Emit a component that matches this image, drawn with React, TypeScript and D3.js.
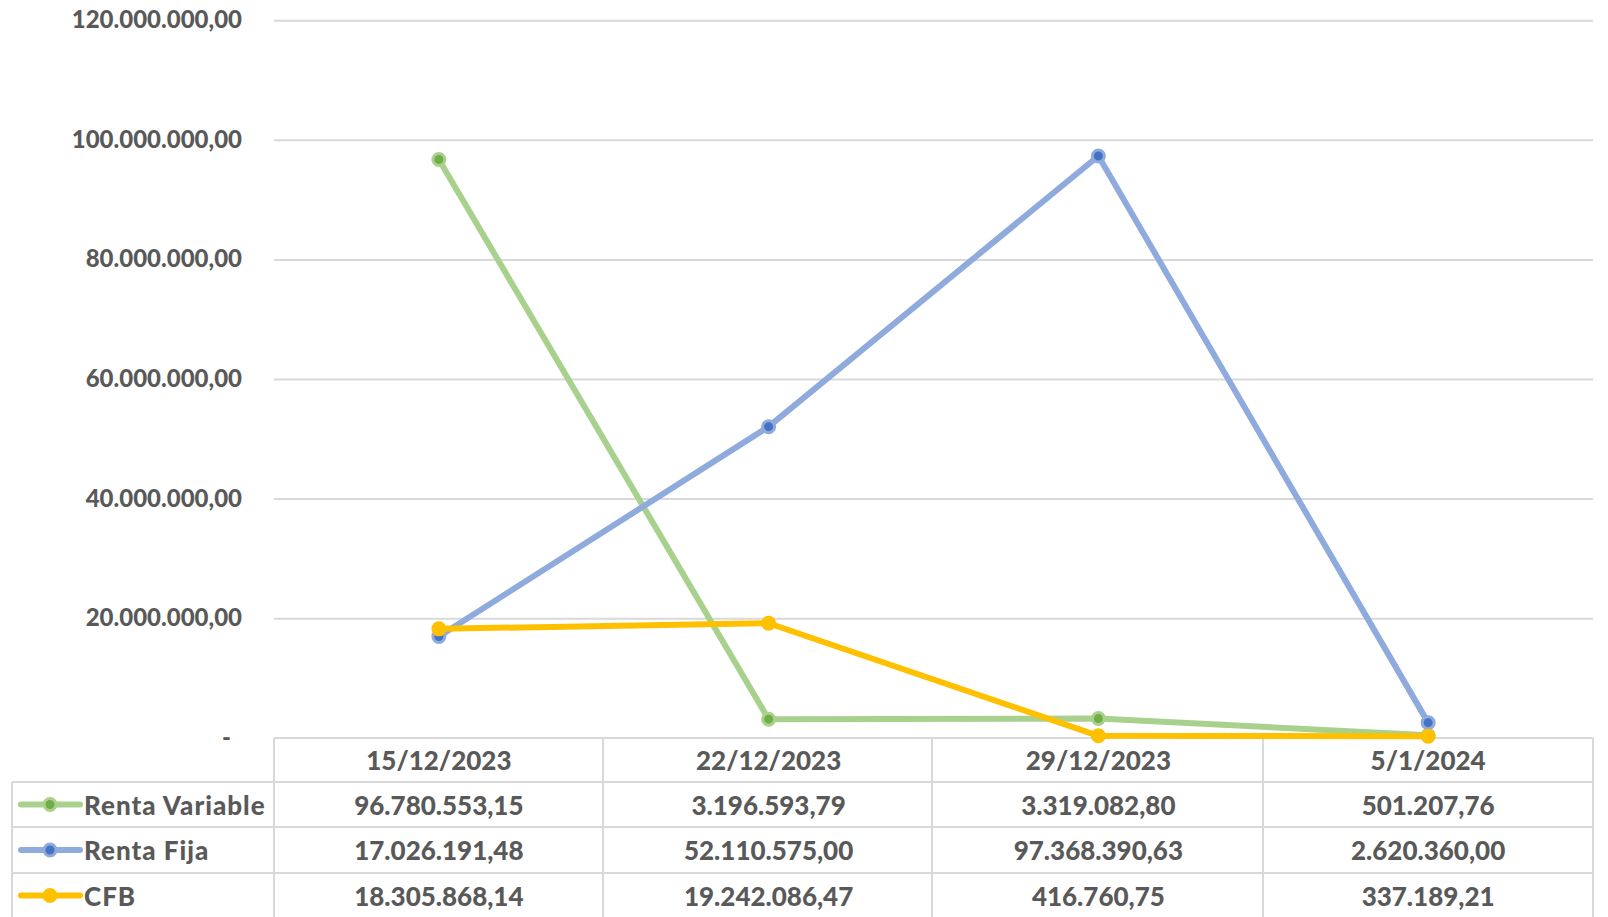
import * as d3 from "d3";
import { useEffect, useRef } from "react";

const dates = ["15/12/2023", "22/12/2023", "29/12/2023", "5/1/2024"];
const rentaVariable = [96780553.15, 3196593.79, 3319082.8, 501207.76];
const rentaFija = [17026191.48, 52110575.0, 97368390.63, 2620360.0];
const cfb = [18305868.14, 19242086.47, 416760.75, 337189.21];
const yTicks = [0, 20000000, 40000000, 60000000, 80000000, 100000000, 120000000];

interface Series {
  name: string;
  values: number[];
  line: string;
  marker: string;
  markerStroke: string;
}

const App = () => {
  const svgRef = useRef<SVGSVGElement>(null);

  useEffect(() => {
    const svg = d3.select(svgRef.current);
    svg.selectAll("*").remove();

    const width = 1608;
    const height = 917;
    const font = "Lato, 'Open Sans', sans-serif";
    const weight = 900;
    const textColor = "#595959";
    const gridColor = "#d9d9d9";

    const locale = d3.formatLocale({
      decimal: ",",
      thousands: ".",
      grouping: [3],
      currency: ["", ""],
    });
    const fmt = locale.format(",.2f");

    const series: Series[] = [
      { name: "Renta Variable", values: rentaVariable, line: "#a9d18e", marker: "#70ad47", markerStroke: "#a9d18e" },
      { name: "Renta Fija", values: rentaFija, line: "#8faadc", marker: "#4472c4", markerStroke: "#8faadc" },
      { name: "CFB", values: cfb, line: "#ffc000", marker: "#ffc000", markerStroke: "#ffc000" },
    ];

    svg.attr("width", width).attr("height", height);

    const x = d3.scaleBand<string>().domain(dates).range([274, 1593]);
    const y = d3.scaleLinear().domain([0, 120000000]).range([738.3, 20.7]);

    // gridlines
    svg
      .append("g")
      .selectAll("line")
      .data(yTicks.filter((t) => t > 0))
      .enter()
      .append("line")
      .attr("x1", 274)
      .attr("x2", 1593)
      .attr("y1", (d) => y(d))
      .attr("y2", (d) => y(d))
      .attr("stroke", gridColor)
      .attr("stroke-width", 2);

    // y axis labels
    svg
      .append("g")
      .selectAll("text")
      .data(yTicks)
      .enter()
      .append("text")
      .attr("x", (d) => (d === 0 ? 231 : 242))
      .attr("y", (d) => y(d) - 2)
      .attr("dominant-baseline", "central")
      .attr("text-anchor", "end")
      .attr("font-family", font)
      .attr("font-weight", weight)
      .attr("font-size", 24)
      .attr("fill", textColor)
      .text((d) => (d === 0 ? "-" : fmt(d)));

    // data table
    const rowTops = [738, 782, 827, 873, 918];
    const colEdges = [274, 603, 932, 1263, 1593];
    const table = svg.append("g");
    rowTops.forEach((ry, i) => {
      table
        .append("line")
        .attr("x1", i === 0 ? 274 : 12)
        .attr("x2", 1593)
        .attr("y1", ry)
        .attr("y2", ry)
        .attr("stroke", gridColor)
        .attr("stroke-width", 2);
    });
    table
      .append("line")
      .attr("x1", 12)
      .attr("x2", 12)
      .attr("y1", 782)
      .attr("y2", 918)
      .attr("stroke", gridColor)
      .attr("stroke-width", 2);
    colEdges.forEach((cx) => {
      table
        .append("line")
        .attr("x1", cx)
        .attr("x2", cx)
        .attr("y1", 738)
        .attr("y2", 918)
        .attr("stroke", gridColor)
        .attr("stroke-width", 2);
    });

    // header dates
    table
      .selectAll(".hdr")
      .data(dates)
      .enter()
      .append("text")
      .attr("class", "hdr")
      .attr("x", (d) => (x(d) ?? 0) + x.bandwidth() / 2)
      .attr("y", (rowTops[0] + rowTops[1]) / 2)
      .attr("dominant-baseline", "central")
      .attr("text-anchor", "middle")
      .attr("font-family", font)
      .attr("font-weight", weight)
      .attr("font-size", 26)
      .attr("fill", textColor)
      .text((d) => d);

    series.forEach((s, i) => {
      const cy = (rowTops[i + 1] + rowTops[i + 2]) / 2;
      const row = table.append("g");
      row
        .append("line")
        .attr("x1", 21)
        .attr("x2", 80)
        .attr("y1", cy)
        .attr("y2", cy)
        .attr("stroke", s.line)
        .attr("stroke-width", 6)
        .attr("stroke-linecap", "round");
      row
        .append("circle")
        .attr("cx", 50)
        .attr("cy", cy)
        .attr("r", 6)
        .attr("fill", s.marker)
        .attr("stroke", s.markerStroke)
        .attr("stroke-width", 3);
      row
        .append("text")
        .attr("x", 84)
        .attr("y", cy)
        .attr("dominant-baseline", "central")
        .attr("font-family", font)
        .attr("font-weight", weight)
        .attr("font-size", 26)
        .attr("letter-spacing", 1)
        .attr("fill", textColor)
        .text(s.name);
      row
        .selectAll(".val")
        .data(s.values)
        .enter()
        .append("text")
        .attr("class", "val")
        .attr("x", (_, j) => (x(dates[j]) ?? 0) + x.bandwidth() / 2)
        .attr("y", cy)
        .attr("dominant-baseline", "central")
        .attr("text-anchor", "middle")
        .attr("font-family", font)
        .attr("font-weight", weight)
        .attr("font-size", 26)
        .attr("fill", textColor)
        .text((d) => fmt(d));
    });

    // lines and markers
    const line = d3
      .line<number>()
      .x((_, j) => (x(dates[j]) ?? 0) + x.bandwidth() / 2)
      .y((d) => y(d));

    series.forEach((s) => {
      const g = svg.append("g");
      g.append("path")
        .attr("d", line(s.values) ?? "")
        .attr("fill", "none")
        .attr("stroke", s.line)
        .attr("stroke-width", 6)
        .attr("stroke-linejoin", "round")
        .attr("stroke-linecap", "round");
      g.selectAll("circle")
        .data(s.values)
        .enter()
        .append("circle")
        .attr("cx", (_, j) => (x(dates[j]) ?? 0) + x.bandwidth() / 2)
        .attr("cy", (d) => y(d))
        .attr("r", 6)
        .attr("fill", s.marker)
        .attr("stroke", s.markerStroke)
        .attr("stroke-width", 3);
    });
  }, []);

  return (
    <svg
      ref={svgRef}
      style={{ position: "absolute", left: 0, top: 0, background: "#fff" }}
    ></svg>
  );
};

export default App;
